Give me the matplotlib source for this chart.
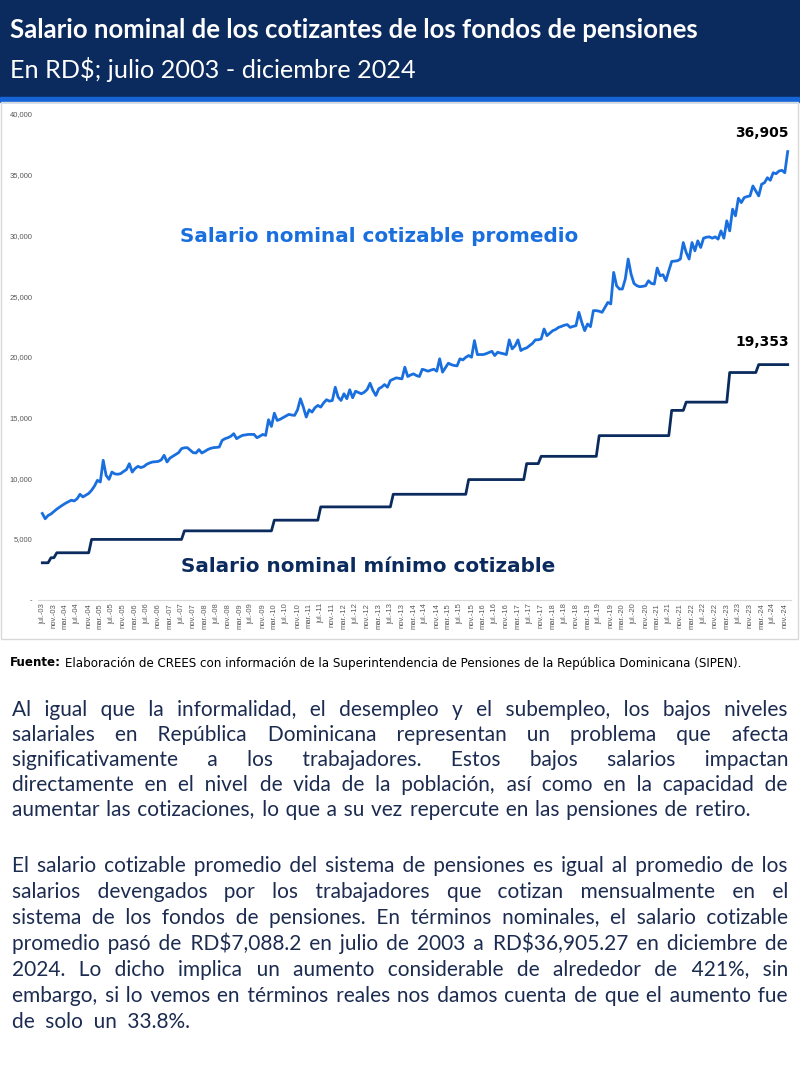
import matplotlib
matplotlib.use('Agg')
import matplotlib.pyplot as plt
import numpy as np
from matplotlib.patches import Rectangle
from matplotlib.font_manager import FontProperties

# salario nominal cotizable promedio (RD$), julio 2003 - diciembre 2024
prom_2003 = [7088, 6650, 6920, 7050, 7250, 7450]
prom_2004 = [7620, 7780, 7930, 8050, 8180, 8120, 8300, 8670, 8450, 8600, 8740, 9000]
prom_2005 = [9350, 9820, 9680, 11470, 10230, 9900, 10500, 10350, 10320, 10370, 10550, 10700]
prom_2006 = [11190, 10500, 10800, 10970, 10870, 10950, 11140, 11250, 11330, 11350, 11380, 11500]
prom_2007 = [11880, 11330, 11650, 11800, 11960, 12100, 12430, 12500, 12510, 12300, 12100, 12070]
prom_2008 = [12350, 12070, 12200, 12350, 12450, 12510, 12530, 12560, 13110, 13250, 13330, 13450]
prom_2009 = [13660, 13250, 13400, 13520, 13560, 13600, 13600, 13600, 13330, 13450, 13600, 13520]
prom_2010 = [14810, 14260, 15350, 14750, 14850, 14980, 15100, 15250, 15200, 15170, 15630, 16540]
prom_2011 = [15850, 15030, 15630, 15440, 15800, 15990, 15850, 16200, 16460, 16340, 16400, 17490]
prom_2012 = [16670, 16400, 16950, 16540, 17280, 16620, 17160, 17050, 16950, 17080, 17300, 17820]
prom_2013 = [17220, 16810, 17360, 17500, 17710, 17490, 18040, 18150, 18260, 18220, 18180, 19140]
prom_2014 = [18370, 18500, 18590, 18450, 18370, 18970, 18900, 18810, 18900, 18970, 18810, 19830]
prom_2015 = [18730, 19100, 19470, 19350, 19280, 19250, 19830, 19740, 19950, 20100, 19960, 21330]
prom_2016 = [20180, 20180, 20180, 20250, 20350, 20450, 20100, 20370, 20300, 20250, 20180, 21390]
prom_2017 = [20650, 20900, 21390, 20510, 20650, 20730, 20920, 21100, 21390, 21400, 21470, 22290]
prom_2018 = [21740, 21950, 22150, 22250, 22420, 22500, 22600, 22650, 22420, 22500, 22560, 23660]
prom_2019 = [22830, 22150, 22700, 22480, 23800, 23800, 23750, 23660, 24070, 24480, 24350, 26950]
prom_2020 = [25850, 25580, 25580, 26400, 28050, 26810, 26040, 25850, 25770, 25800, 25850, 26260]
prom_2021 = [26040, 25990, 27310, 26670, 26760, 26260, 27080, 27850, 27880, 27910, 28050, 29410]
prom_2022 = [28590, 28050, 29410, 28730, 29550, 29000, 29770, 29850, 29880, 29770, 29880, 29690]
prom_2023 = [30370, 29770, 31200, 30370, 32160, 31610, 33060, 32700, 33110, 33200, 33250, 34070]
prom_2024 = [33660, 33250, 34210, 34340, 34750, 34540, 35160, 35080, 35300, 35360, 35160, 36905]

# salario minimo cotizable: niveles y cantidad de meses en cada nivel
min_niveles = [3025, 3440, 3850, 4950, 5655, 6535, 7630, 8670, 9880, 11195, 11795,
               13500, 15580, 16260, 18700, 19353]
min_meses = [3, 2, 12, 32, 31, 16, 25, 26, 20, 5, 20, 25, 5, 15, 10, 11]

meses = ['ene.', 'feb.', 'mar.', 'abr.', 'may.', 'jun.',
         'jul.', 'ago.', 'sep.', 'oct.', 'nov.', 'dic.']
y_ticks = [0, 5000, 10000, 15000, 20000, 25000, 30000, 35000, 40000]

promedio = np.array(prom_2003 + prom_2004 + prom_2005 + prom_2006 + prom_2007 + prom_2008
                    + prom_2009 + prom_2010 + prom_2011 + prom_2012 + prom_2013 + prom_2014
                    + prom_2015 + prom_2016 + prom_2017 + prom_2018 + prom_2019 + prom_2020
                    + prom_2021 + prom_2022 + prom_2023 + prom_2024)
minimo = np.repeat(min_niveles, min_meses)
n = len(promedio)
idx = np.arange(n)
etiquetas = []
for i in idx:
    m = (6 + i) % 12
    a = 2003 + (6 + i) // 12
    etiquetas.append(meses[m] + '-' + str(a)[2:])

W, H = 800, 1066
fx = lambda x: x / W
fy = lambda y: 1 - y / H

navy = '#0b2b5e'
azul = '#1a6fdf'
texto = '#1c2b50'

fig = plt.figure(figsize=(8, 10.66), dpi=100)
fig.patch.set_facecolor('white')
r = fig.canvas.get_renderer()

# encabezado
fig.patches.append(Rectangle((0, fy(97)), 1, 97 / H, transform=fig.transFigure,
                             color=navy, zorder=0))
fig.patches.append(Rectangle((0, fy(102)), 1, 5 / H, transform=fig.transFigure,
                             color='#1565d8', zorder=0))
fig.patches.append(Rectangle((fx(1), fy(639)), fx(797), (639 - 102) / H,
                             transform=fig.transFigure, fill=False,
                             ec='#d9d9d9', lw=1, zorder=0))
fig.text(fx(10), fy(30), 'Salario nominal de los cotizantes de los fondos de pensiones',
         color='white', fontsize=18.5, fontweight='bold', family='Lato', va='center')
fig.text(fx(10), fy(70), 'En RD$; julio 2003 - diciembre 2024',
         color='white', fontsize=18.2, family='Lato', va='center')

# grafico
ax = fig.add_axes([fx(38), fy(599.5), fx(791) - fx(38), (599.5 - 114) / H])
ax.plot(idx, promedio, color=azul, lw=2.0, solid_joinstyle='round')
ax.plot(idx, minimo, color=navy, lw=2.0, solid_joinstyle='round')
ax.set_xlim(-(42.3 - 38) / 2.9, 257 + (791 - 787.7) / 2.9)
ax.set_ylim(0, 40000)
for s in ['top', 'right', 'left']:
    ax.spines[s].set_visible(False)
ax.spines['bottom'].set_color('#d9d9d9')
ax.set_yticks(y_ticks)
ax.set_yticklabels(['-' if v == 0 else f'{v:,}' for v in y_ticks],
                   fontsize=5.5, color='#595959', family='Liberation Sans')
ax.set_xticks(idx[::4])
ax.set_xticklabels(etiquetas[::4], rotation=90, fontsize=5.5, color='#595959',
                   family='Liberation Sans')
ax.tick_params(axis='y', length=0, pad=4)
ax.tick_params(axis='x', length=0, pad=2.5)

ax.text(fx(379), fy(237), 'Salario nominal cotizable promedio', transform=fig.transFigure,
        color=azul, fontsize=14.4, fontweight='bold', family='DejaVu Sans',
        ha='center', va='center')
ax.text(fx(368), fy(566), 'Salario nominal mínimo cotizable', transform=fig.transFigure,
        color=navy, fontsize=14.4, fontweight='bold', family='DejaVu Sans',
        ha='center', va='center')
ax.annotate(f'{promedio[-1]:,}', (idx[-1], promedio[-1]), xytext=(1, 13.5),
            textcoords='offset points', ha='right', va='center',
            fontsize=10, fontweight='bold', color='black', family='DejaVu Sans')
ax.annotate(f'{minimo[-1]:,}', (idx[-1], minimo[-1]), xytext=(1, 16),
            textcoords='offset points', ha='right', va='center',
            fontsize=10, fontweight='bold', color='black', family='DejaVu Sans')

# fuente
f1 = fig.text(fx(10), fy(663), 'Fuente:', fontsize=8.6, fontweight='bold',
              family='DejaVu Sans', va='center', color='black')
wf = f1.get_window_extent(r).width
fig.text(fx(10 + wf + 4), fy(663),
         'Elaboración de CREES con información de la Superintendencia de Pensiones '
         'de la República Dominicana (SIPEN).',
         fontsize=8.6, family='DejaVu Sans', va='center', color='black')

parrafo1 = [
    'Al igual que la informalidad, el desempleo y el subempleo, los bajos niveles',
    'salariales en República Dominicana representan un problema que afecta',
    'significativamente a los trabajadores. Estos bajos salarios impactan',
    'directamente en el nivel de vida de la población, así como en la capacidad de',
    'aumentar las cotizaciones, lo que a su vez repercute en las pensiones de retiro.',
]
parrafo2 = [
    'El salario cotizable promedio del sistema de pensiones es igual al promedio de los',
    'salarios devengados por los trabajadores que cotizan mensualmente en el',
    'sistema de los fondos de pensiones. En términos nominales, el salario cotizable',
    'promedio pasó de RD$7,088.2 en julio de 2003 a RD$36,905.27 en diciembre de',
    '2024. Lo dicho implica un aumento considerable de alrededor de 421%, sin',
    'embargo, si lo vemos en términos reales nos damos cuenta de que el aumento fue',
    'de solo un 33.8%.',
]

fam = ['Lato', 'DejaVu Sans']
candidatos = [' ' * a + '\u2009' * c + '\u200a' * b
              for a in range(1, 11) for c in range(0, 2) for b in range(0, 3)]


def justificar(lineas, y0, dy, fin_ultima, size=15, x0=12, x1=788):
    prop = FontProperties(family=fam, size=size)
    ancho = lambda s: r.get_text_width_height_descent(s, prop, ismath=False)[0]
    for k, linea in enumerate(lineas):
        palabras = linea.split()
        ws = [ancho(p) for p in palabras]
        fin = fin_ultima if k == len(lineas) - 1 else x1
        gap = (fin - x0 - sum(ws)) / (len(palabras) - 1)
        s = palabras[0]
        for j in range(1, len(palabras)):
            meta = sum(ws[:j + 1]) + j * gap
            mejor = min(candidatos, key=lambda c: abs(ancho(s + c + palabras[j]) - meta))
            s = s + mejor + palabras[j]
        fig.text(fx(x0), fy(y0 + k * dy), s, fontproperties=prop, color=texto,
                 va='baseline', parse_math=False)


justificar(parrafo1, 716, 25, 750)
justificar(parrafo2, 872, 26, 190)

fig.savefig('out.png', dpi=100, facecolor='white')
